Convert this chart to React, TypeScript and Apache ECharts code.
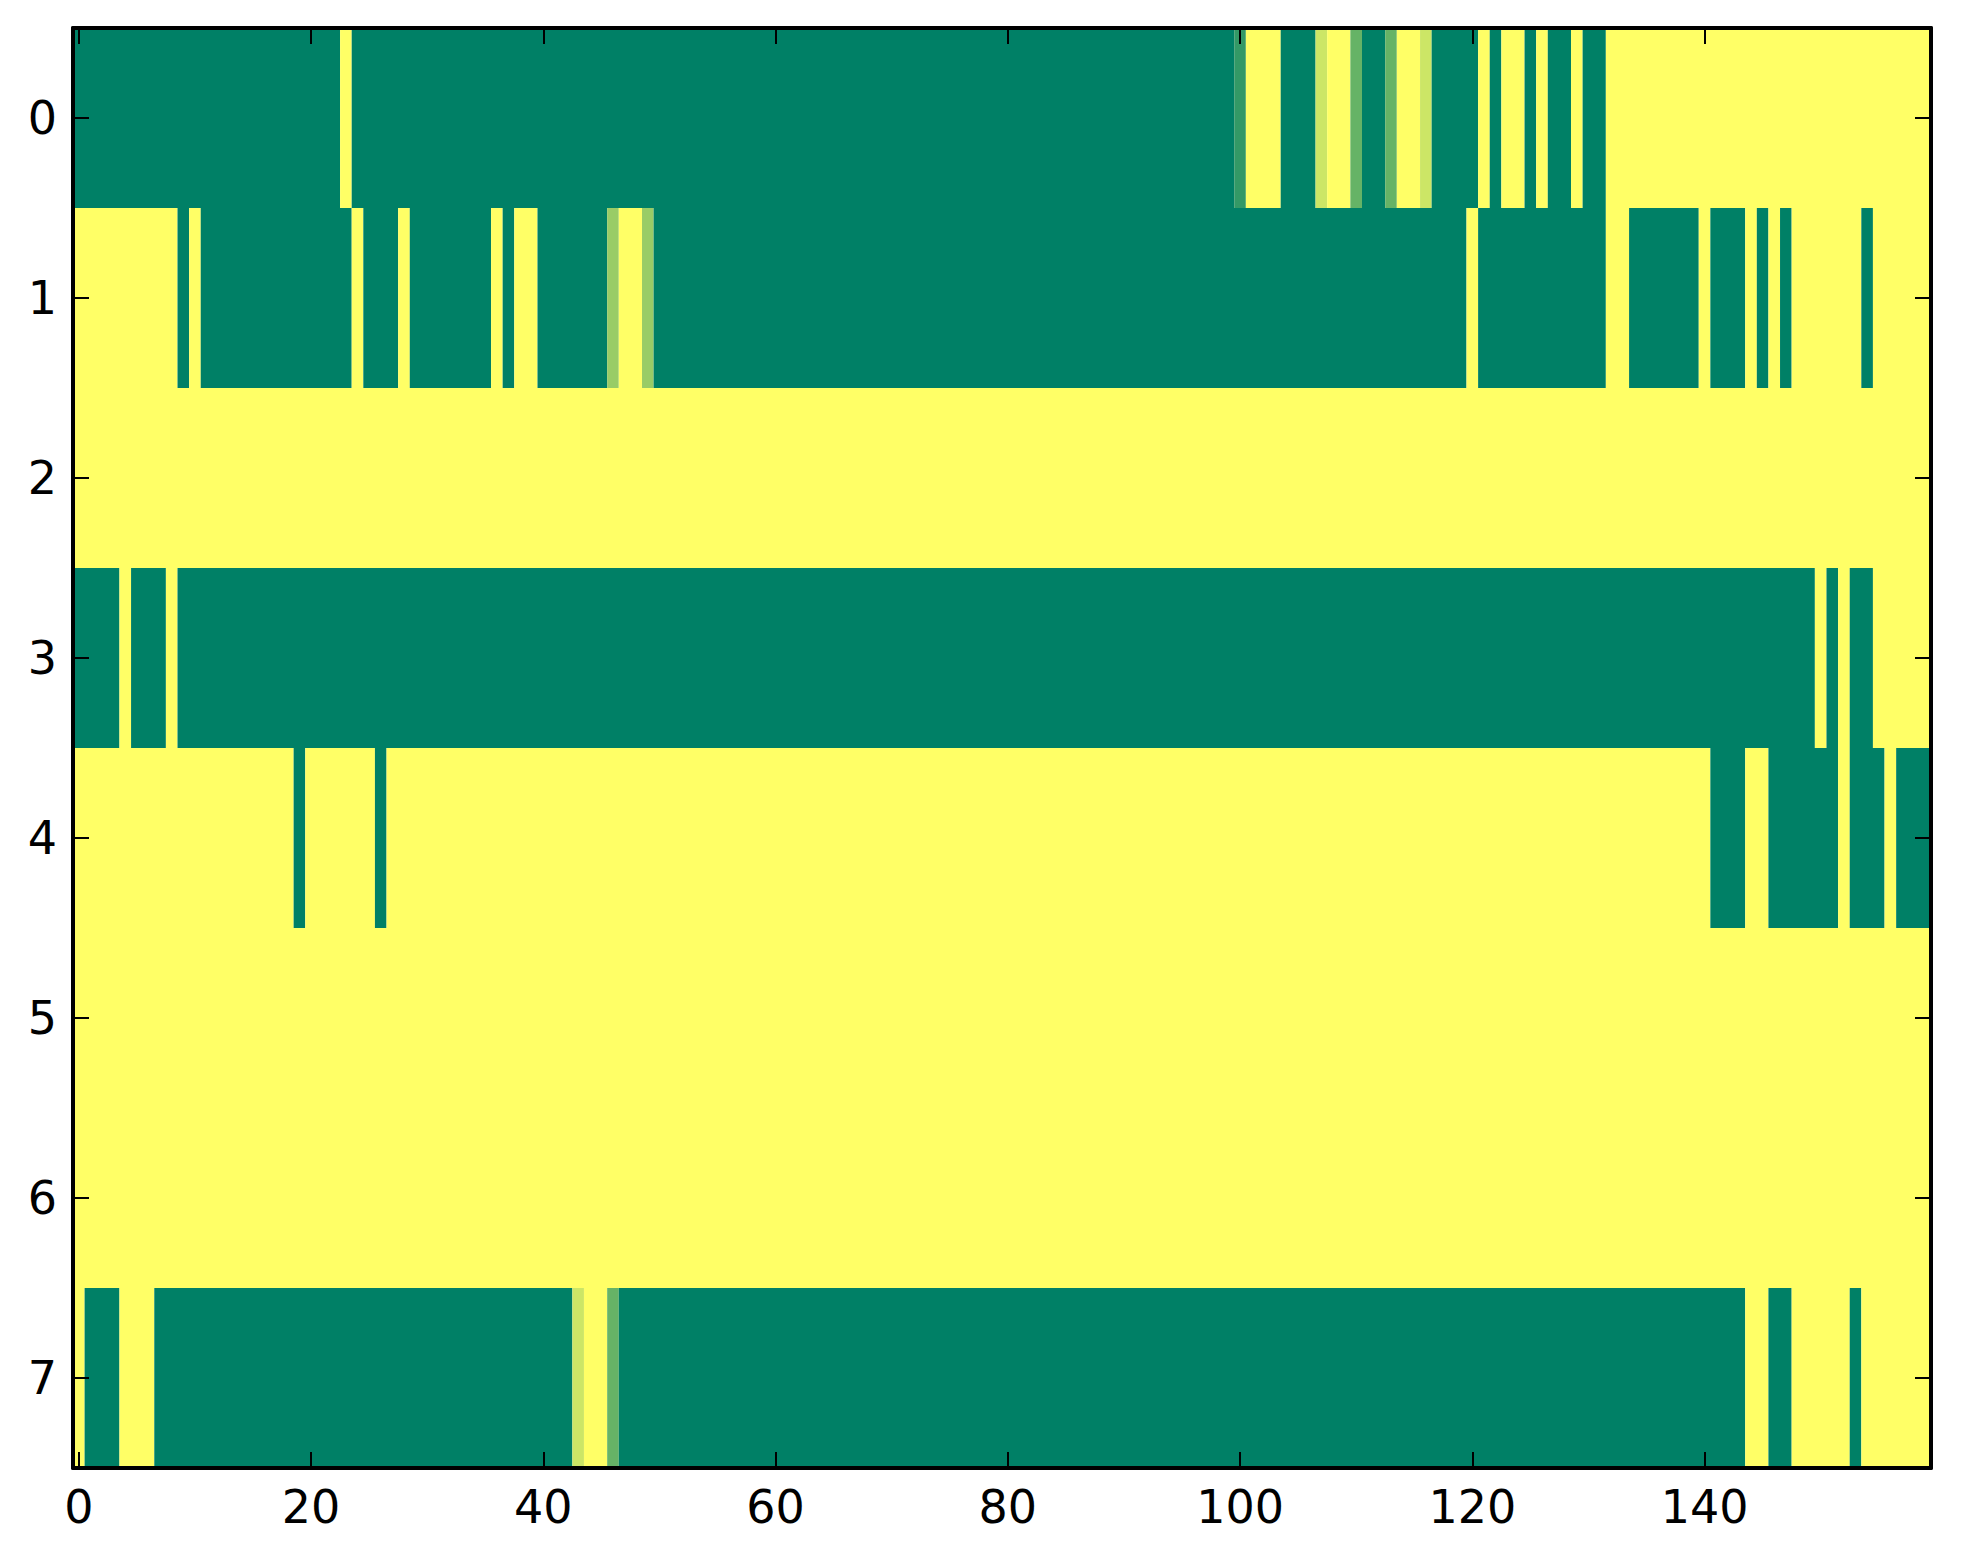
import React, { useEffect, useRef } from "react";
import * as echarts from "echarts";

// Column categories 0..159 and row labels 0..7
const columnCount = 160;
const xCategories: string[] = Array.from({ length: columnCount }, (_, i) => String(i));
const rowLabels: string[] = ["0", "1", "2", "3", "4", "5", "6", "7"];
const xTickStep = 20;

// Each row as runs of [value, number of columns], read left to right
const row0: [number, number][] = [
  [0, 23], [1, 1], [0, 76], [0.2, 1], [1, 3], [0, 3], [0.8, 1], [1, 2], [0.4, 1], [0, 2],
  [0.4, 1], [1, 2], [0.8, 1], [0, 4], [1, 1], [0, 1], [1, 2], [0, 1], [1, 1], [0, 2],
  [1, 1], [0, 2], [1, 28],
];
const row1: [number, number][] = [
  [1, 9], [0, 1], [1, 1], [0, 13], [1, 1], [0, 3], [1, 1], [0, 7], [1, 1], [0, 1],
  [1, 2], [0, 6], [0.6, 1], [1, 2], [0.6, 1], [0, 70], [1, 1], [0, 11], [1, 2], [0, 6],
  [1, 1], [0, 3], [1, 1], [0, 1], [1, 1], [0, 1], [1, 6], [0, 1], [1, 5],
];
const row2: [number, number][] = [[1, 160]];
const row3: [number, number][] = [
  [0, 4], [1, 1], [0, 3], [1, 1], [0, 141], [1, 1], [0, 1], [1, 1], [0, 2], [1, 5],
];
const row4: [number, number][] = [
  [1, 19], [0, 1], [1, 6], [0, 1], [1, 114], [0, 3], [1, 2], [0, 6], [1, 1], [0, 3], [1, 1], [0, 3],
];
const row5: [number, number][] = [[1, 160]];
const row6: [number, number][] = [[1, 160]];
const row7: [number, number][] = [
  [1, 1], [0, 3], [1, 3], [0, 36], [0.8, 1], [1, 2], [0.4, 1], [0, 97], [1, 2], [0, 2], [1, 5], [0, 1], [1, 6],
];
const rows = [row0, row1, row2, row3, row4, row5, row6, row7];

const FONT = "DejaVu Sans";

export default function App() {
  const ref = useRef<HTMLDivElement>(null);
  useEffect(() => {
    if (!ref.current) return;
    const chart = echarts.init(ref.current, null, { renderer: "svg" });
    // [startColumn, endColumn, row, value] for each run of equal cells
    const data: [number, number, number, number][] = [];
    rows.forEach((runs, r) => {
      let c = 0;
      runs.forEach(([v, n]) => {
        data.push([c, c + n - 1, r, v]);
        c += n;
      });
    });
    const showX = (i: number) => i % xTickStep === 0;
    const lineStyle = { color: "#000", width: 4 };
    const tickStyle = { color: "#000", width: 2 };
    chart.setOption({
      animation: false,
      backgroundColor: "#ffffff",
      grid: { left: 65, right: 24, top: 20, bottom: 88, containLabel: false },
      visualMap: {
        show: false,
        type: "continuous",
        min: 0,
        max: 1,
        dimension: 3,
        seriesIndex: 0,
        inRange: { color: ["#008066", "#ffff66"] },
      },
      xAxis: [
        {
          type: "category",
          data: xCategories,
          position: "bottom",
          z: 10,
          axisLine: { show: true, lineStyle },
          axisTick: { show: true, inside: true, length: 16, alignWithLabel: true, interval: showX, lineStyle: tickStyle },
          axisLabel: { show: true, interval: showX, fontSize: 46, color: "#000", fontFamily: FONT, margin: 16 },
          splitLine: { show: false },
        },
        {
          type: "category",
          data: xCategories,
          position: "top",
          z: 10,
          axisLine: { show: true, lineStyle },
          axisTick: { show: true, inside: true, length: 16, alignWithLabel: true, interval: showX, lineStyle: tickStyle },
          axisLabel: { show: false },
          splitLine: { show: false },
        },
      ],
      yAxis: [
        {
          type: "category",
          data: rowLabels,
          inverse: true,
          position: "left",
          z: 10,
          axisLine: { show: true, lineStyle },
          axisTick: { show: true, inside: true, length: 16, alignWithLabel: true, interval: 0, lineStyle: tickStyle },
          axisLabel: { show: true, interval: 0, fontSize: 46, color: "#000", fontFamily: FONT, margin: 16 },
          splitLine: { show: false },
        },
        {
          type: "category",
          data: rowLabels,
          inverse: true,
          position: "right",
          z: 10,
          axisLine: { show: true, lineStyle },
          axisTick: { show: true, inside: true, length: 16, alignWithLabel: true, interval: 0, lineStyle: tickStyle },
          axisLabel: { show: false },
          splitLine: { show: false },
        },
      ],
      series: [
        {
          type: "custom",
          xAxisIndex: 0,
          yAxisIndex: 0,
          encode: { x: [0, 1], y: 2 },
          data,
          silent: true,
          renderItem: (params: any, api: any) => {
            const s = api.value(0);
            const e = api.value(1);
            const r = api.value(2);
            const p0 = api.coord([s, r]);
            const p1 = api.coord([e, r]);
            const size = api.size([1, 1]);
            const x = p0[0] - size[0] / 2;
            const w = p1[0] - p0[0] + size[0];
            const y = p0[1] - size[1] / 2;
            return {
              type: "rect",
              shape: { x, y, width: w, height: size[1] },
              style: { fill: api.visual("color"), stroke: null, lineWidth: 0 },
            };
          },
        },
      ],
    });
    return () => chart.dispose();
  }, []);
  return <div ref={ref} style={{ width: 1947, height: 1548 }} />;
}
